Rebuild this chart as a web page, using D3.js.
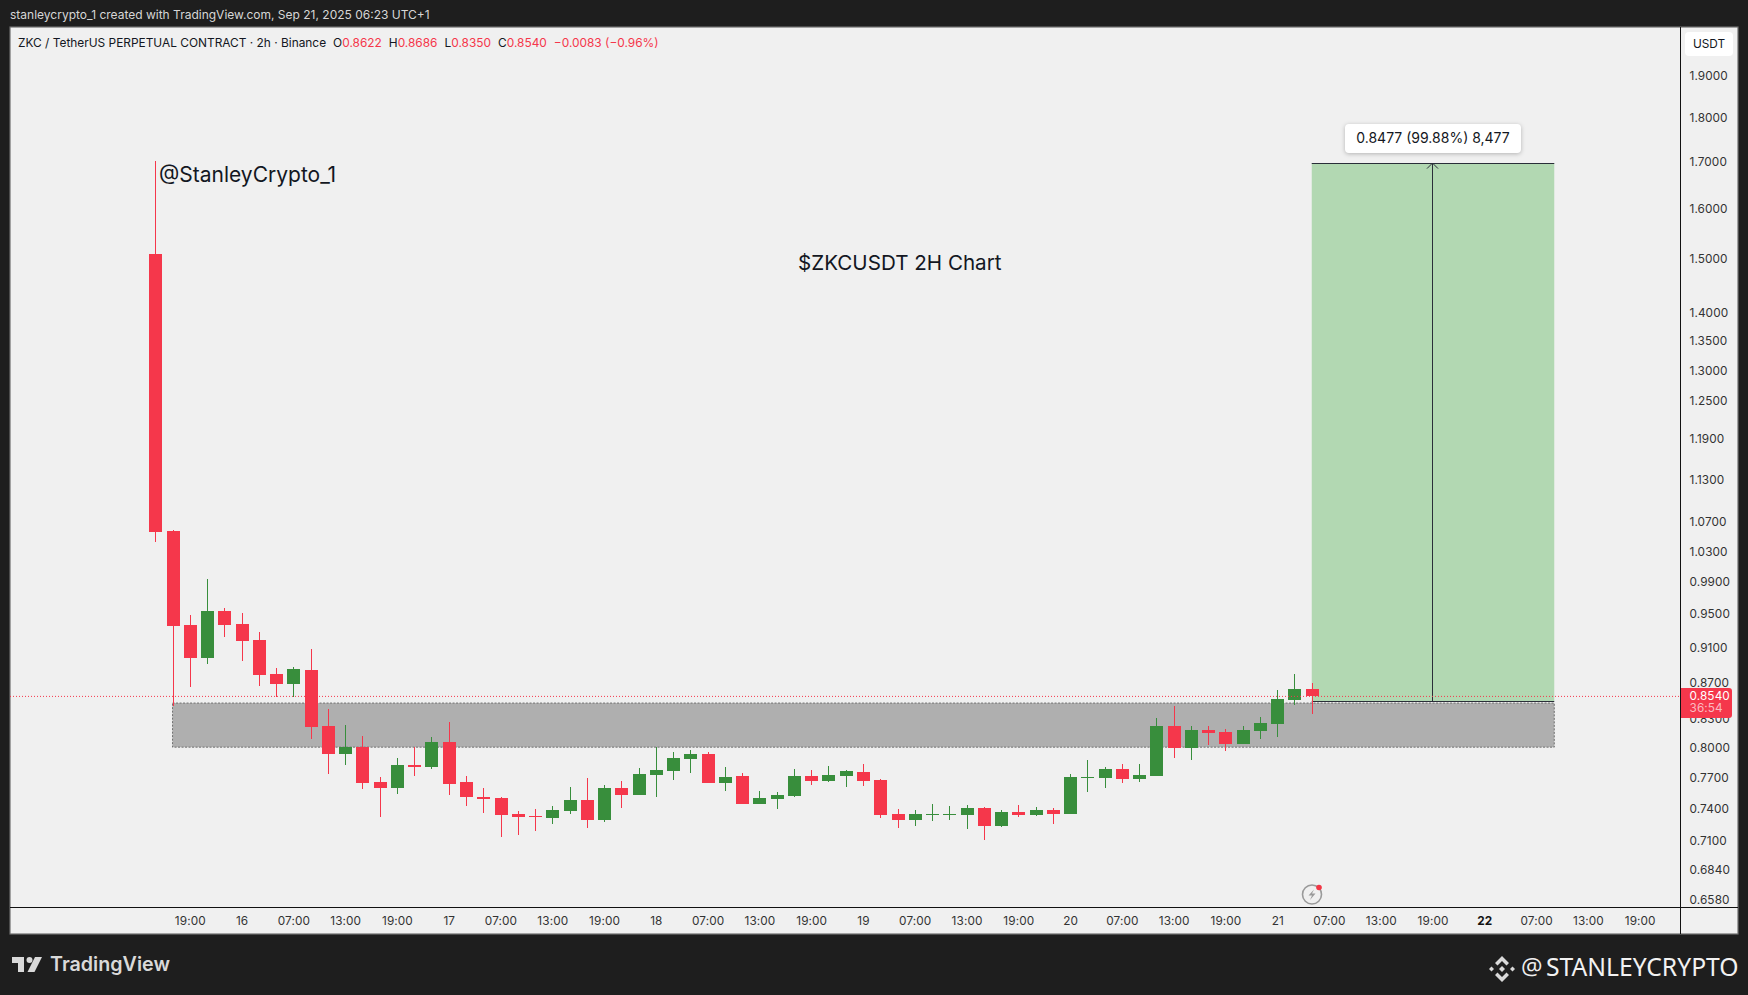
<!DOCTYPE html>
<html>
<head>
<meta charset="utf-8">
<title>ZKCUSDT 2H</title>
<script src="https://cdn.jsdelivr.net/npm/d3@7"></script>
<style>
  html, body { margin: 0; padding: 0; background: #1e1e1e; }
  svg { display: block; }
  text { font-family: Inter, "Noto Sans", sans-serif; }
  .axis text { font-size: 11.8px; fill: #333; letter-spacing: 0.1px; }
  .axis path, .axis line { display: none; }
</style>
</head>
<body>
<div id="content"></div>
<script>
// Données, 2h bars from Sep 15 15:00 to Sep 21 05:00 (UTC+1)

var opens = [1.5092,1.0566,0.9362,0.8973,0.9532,0.9374,0.9183,0.8790,0.8677,0.8835,0.8221,0.7930,0.8002,0.7650,0.7591,0.7819,0.7799,0.8053,0.7650,0.7503,0.7493,0.7341,0.7322,0.7303,0.7369,0.7474,0.7284,0.7591,0.7522,0.7719,0.7759,0.7879,0.7930,0.7640,0.7709,0.7436,0.7484,0.7512,0.7709,0.7659,0.7709,0.7749,0.7669,0.7341,0.7284,0.7331,0.7331,0.7331,0.7398,0.7228,0.7360,0.7331,0.7379,0.7341,0.7689,0.7689,0.7779,0.7679,0.7709,0.8221,0.7991,0.8179,0.8158,0.8032,0.8168,0.8243,0.8501,0.8622];
var highs = [1.7011,1.0579,0.9483,0.9933,0.9570,0.9508,0.9278,0.8858,0.8869,0.9078,0.8403,0.8232,0.8116,0.7699,0.7889,0.8002,0.8105,0.8264,0.7709,0.7591,0.7503,0.7369,0.7388,0.7417,0.7600,0.7689,0.7620,0.7659,0.7789,0.8002,0.7951,0.7971,0.7951,0.7799,0.7739,0.7561,0.7551,0.7779,0.7768,0.7809,0.7768,0.7829,0.7679,0.7388,0.7379,0.7436,0.7417,0.7426,0.7407,0.7379,0.7426,0.7407,0.7398,0.7729,0.7869,0.7799,0.7829,0.7829,0.8306,0.8435,0.8221,0.8221,0.8190,0.8221,0.8317,0.8611,0.8790,0.8686];
var lows = [1.0417,0.8440,0.8644,0.8904,0.9218,0.8938,0.8655,0.8534,0.8534,0.8084,0.7729,0.7819,0.7581,0.7312,0.7532,0.7709,0.7779,0.7522,0.7417,0.7350,0.7127,0.7145,0.7182,0.7246,0.7341,0.7209,0.7265,0.7398,0.7522,0.7503,0.7669,0.7739,0.7640,0.7561,0.7436,0.7436,0.7388,0.7503,0.7620,0.7650,0.7600,0.7610,0.7303,0.7209,0.7228,0.7274,0.7284,0.7200,0.7099,0.7218,0.7312,0.7322,0.7246,0.7341,0.7551,0.7591,0.7640,0.7650,0.7709,0.7889,0.7869,0.8022,0.7961,0.8032,0.8084,0.8105,0.8446,0.8350];
var closes = [1.0552,0.9350,0.8973,0.9532,0.9362,0.9171,0.8779,0.8677,0.8846,0.8211,0.7930,0.8002,0.7640,0.7591,0.7819,0.7799,0.8053,0.7630,0.7503,0.7484,0.7331,0.7312,0.7312,0.7379,0.7474,0.7284,0.7591,0.7522,0.7729,0.7768,0.7889,0.7930,0.7640,0.7699,0.7436,0.7493,0.7522,0.7709,0.7659,0.7719,0.7759,0.7659,0.7331,0.7284,0.7341,0.7341,0.7341,0.7398,0.7228,0.7360,0.7331,0.7379,0.7341,0.7699,0.7699,0.7779,0.7679,0.7719,0.8221,0.7991,0.8179,0.8147,0.8032,0.8179,0.8253,0.8512,0.8622,0.8540];

var priceTicks = [1.9,1.8,1.7,1.6,1.5,1.4,1.35,1.3,1.25,1.19,1.13,1.07,1.03,0.99,0.95,0.91,0.87,0.83,0.8,0.77,0.74,0.71,0.684,0.658];
var timeLabels = ["19:00","16","07:00","13:00","19:00","17","07:00","13:00","19:00","18","07:00","13:00","19:00","19","07:00","13:00","19:00","20","07:00","13:00","19:00","21","07:00","13:00","19:00","22","07:00","13:00","19:00"];
var timeBars = [2,5,8,11,14,17,20,23,26,29,32,35,38,41,44,47,50,53,56,59,62,65,68,71,74,77,80,83,86];

var lastPrice = 0.8540;
var zonePrices = [0.8467, 0.8000];
var zoneBars = [1, 81.05];
var targetPrices = [0.8487, 1.6964];
var targetBars = [67, 81.05];

var headerValues = [["O","0.8622"],["H","0.8686"],["L","0.8350"],["C","0.8540"]];

// Paramètres graphiques

let width = 1748, height = 995,
    panel = {left: 10, top: 27, right: 1738, bottom: 934},
    axisX = 1680, axisY = 907,
    upColor = "#388e3c", downColor = "#f5374b";

let svg = d3.select("#content").append("svg")
    .attr("width", width)
    .attr("height", height);

// Échelles

var x = d3.scaleLinear().domain([0, 81]).range([155.3, 1553.4]),
    y = d3.scaleLog().domain([0.658, 1.9]).range([899, 75]);

// Cadre

svg.append("rect")
    .attr("x", panel.left)
    .attr("y", panel.top)
    .attr("width", panel.right - panel.left)
    .attr("height", panel.bottom - panel.top)
    .attr("fill", "#f0f0f0")
    .attr("stroke", "#6e6e6e")
    .attr("stroke-width", 1.2);

// Target box and arrow

svg.append("rect")
    .attr("x", x(targetBars[0]))
    .attr("y", y(targetPrices[1]))
    .attr("width", x(targetBars[1]) - x(targetBars[0]))
    .attr("height", y(targetPrices[0]) - y(targetPrices[1]))
    .attr("fill", "#b2d8b2");

targetPrices.forEach(p => {
  svg.append("line")
      .attr("x1", x(targetBars[0]))
      .attr("x2", x(targetBars[1]))
      .attr("y1", Math.round(y(p)) + 0.5)
      .attr("y2", Math.round(y(p)) + 0.5)
      .attr("stroke", "#2a2e39")
      .attr("stroke-width", 1);
});

let arrowX = Math.round((x(targetBars[0]) + x(targetBars[1])) / 2) - 0.5;

svg.append("line")
    .attr("x1", arrowX).attr("x2", arrowX)
    .attr("y1", y(targetPrices[0]))
    .attr("y2", y(targetPrices[1]))
    .attr("stroke", "#2a2e39");

svg.append("path")
    .attr("d", "M" + (arrowX - 5.5) + "," + (y(targetPrices[1]) + 5.5) + "L" + arrowX + "," + y(targetPrices[1]) + "L" + (arrowX + 5.5) + "," + (y(targetPrices[1]) + 5.5))
    .attr("fill", "none")
    .attr("stroke", "#2a2e39");

// Zone grise

svg.append("rect")
    .attr("x", x(zoneBars[0]))
    .attr("y", y(zonePrices[0]))
    .attr("width", x(zoneBars[1]) - x(zoneBars[0]))
    .attr("height", y(zonePrices[1]) - y(zonePrices[0]))
    .attr("fill", "#afafaf")
    .attr("stroke", "#6f6f6f")
    .attr("stroke-dasharray", "2 1.5");

// Bougies

let bars = d3.range(opens.length);

let candles = svg.append("g")
    .attr("shape-rendering", "crispEdges")
    .selectAll("g")
    .data(bars)
  .join("g")
    .attr("fill", i => closes[i] >= opens[i] ? upColor : downColor);

candles.append("rect")
    .attr("x", i => Math.round(x(i)) - 0.5)
    .attr("width", 1)
    .attr("y", i => y(highs[i]))
    .attr("height", i => y(lows[i]) - y(highs[i]));

candles.append("rect")
    .attr("x", i => Math.round(x(i)) - 6.5)
    .attr("width", 13)
    .attr("y", i => y(Math.max(opens[i], closes[i])))
    .attr("height", i => Math.max(1, y(Math.min(opens[i], closes[i])) - y(Math.max(opens[i], closes[i]))));

// Ligne de prix

svg.append("line")
    .attr("x1", panel.left)
    .attr("x2", axisX)
    .attr("y1", y(lastPrice))
    .attr("y2", y(lastPrice))
    .attr("stroke", downColor)
    .attr("stroke-width", 1)
    .attr("stroke-dasharray", "1 2");

// Axes

svg.append("line")
    .attr("x1", axisX + 0.5).attr("x2", axisX + 0.5)
    .attr("y1", panel.top).attr("y2", panel.bottom)
    .attr("stroke", "#111");

svg.append("line")
    .attr("x1", panel.left).attr("x2", panel.right)
    .attr("y1", axisY + 0.5).attr("y2", axisY + 0.5)
    .attr("stroke", "#111");

let yAxis = svg.append("g")
    .attr("class", "axis")
    .attr("transform", "translate(" + axisX + ",0.5)")
    .call(d3.axisRight(y)
      .tickValues(priceTicks)
      .tickFormat(d3.format(".4f"))
      .tickSize(0)
      .tickPadding(9.5));

let xAxis = svg.append("g")
    .attr("class", "axis")
    .attr("transform", "translate(0," + axisY + ")")
    .call(d3.axisBottom(x)
      .tickValues(timeBars)
      .tickFormat((d, i) => timeLabels[i])
      .tickSize(0)
      .tickPadding(9.5));

xAxis.selectAll("text")
    .filter(d => d == 77)
    .attr("font-weight", 700)
    .style("fill", "#111");

// Étiquette de prix

svg.append("path")
    .attr("d", "M" + (axisX + 1) + ",688H1729a3,3 0 0 1 3,3V715a3,3 0 0 1 -3,3H" + (axisX + 1) + "Z")
    .attr("fill", downColor);

svg.append("text")
    .attr("x", 1689.5)
    .attr("y", y(lastPrice) + 0.5)
    .attr("dominant-baseline", "middle")
    .attr("font-size", 11.8)
    .attr("letter-spacing", 0.1)
    .attr("fill", "#fff")
    .text(lastPrice.toFixed(4));

svg.append("text")
    .attr("x", 1689.5)
    .attr("y", 709)
    .attr("dominant-baseline", "middle")
    .attr("font-size", 11.8)
    .attr("letter-spacing", 0.1)
    .attr("fill", "#fbb9c0")
    .text("36:54");

// Bouton USDT

svg.append("rect")
    .attr("x", 1685).attr("y", 32)
    .attr("width", 48).attr("height", 24)
    .attr("rx", 4)
    .attr("fill", "#fff");

svg.append("text")
    .attr("x", 1709).attr("y", 44.5)
    .attr("text-anchor", "middle")
    .attr("dominant-baseline", "middle")
    .attr("font-size", 11.8)
    .attr("fill", "#131722")
    .text("USDT");

// Textes

svg.append("text")
    .attr("x", 10).attr("y", 16)
    .attr("dominant-baseline", "middle")
    .attr("font-size", 12)
    .attr("fill", "#d6d6d6")
    .text("stanleycrypto_1 created with TradingView.com, Sep 21, 2025 06:23 UTC+1");

let header = svg.append("text")
    .attr("x", 18).attr("y", 43.5)
    .attr("dominant-baseline", "middle")
    .attr("font-size", 11.9)
    .attr("fill", "#131722");

header.append("tspan").text("ZKC / TetherUS PERPETUAL CONTRACT · 2h · Binance");

headerValues.forEach(d => {
  header.append("tspan").attr("dx", 7).text(d[0]);
  header.append("tspan").attr("fill", downColor).text(d[1]);
});

header.append("tspan").attr("dx", 7).attr("fill", downColor).text("−0.0083 (−0.96%)");

svg.append("text")
    .attr("x", 159).attr("y", 176)
    .attr("dominant-baseline", "middle")
    .attr("font-size", 21)
    .attr("fill", "#131722")
    .text("@StanleyCrypto_1");

svg.append("text")
    .attr("x", 798).attr("y", 264)
    .attr("dominant-baseline", "middle")
    .attr("font-size", 20.6)
    .attr("fill", "#131722")
    .text("$ZKCUSDT 2H Chart");

// Measure label

svg.append("rect")
    .attr("x", 1345).attr("y", 124)
    .attr("width", 176).attr("height", 29)
    .attr("rx", 4)
    .attr("fill", "#fff")
    .style("filter", "drop-shadow(0 1px 2px rgba(0,0,0,0.25))");

svg.append("text")
    .attr("x", 1433).attr("y", 139.5)
    .attr("text-anchor", "middle")
    .attr("dominant-baseline", "middle")
    .attr("font-size", 14)
    .attr("fill", "#131722")
    .text("0.8477 (99.88%) 8,477");

// Icône éclair

let bolt = svg.append("g").attr("transform", "translate(1312,894.5)");

bolt.append("circle")
    .attr("r", 9.5)
    .attr("fill", "none")
    .attr("stroke", "#9a9a9a")
    .attr("stroke-width", 1.6);

bolt.append("path")
    .attr("d", "M2,-5L-3.5,1H0L-2,5.5L3.5,-1H0Z")
    .attr("fill", "#9a9a9a");

bolt.append("circle")
    .attr("cx", 7).attr("cy", -7).attr("r", 2.8)
    .attr("fill", "#f23645");

// Logo TradingView

let tv = svg.append("g").attr("fill", "#d9d9d9");

tv.append("path").attr("d", "M12,957H24V972H18V963H12Z");
tv.append("circle").attr("cx", 29.5).attr("cy", 960).attr("r", 3);
tv.append("path").attr("d", "M35,957H42L34.5,972H27.5Z");

tv.append("text")
    .attr("x", 50).attr("y", 966)
    .attr("dominant-baseline", "middle")
    .attr("font-size", 19.7)
    .attr("font-weight", 600)
    .text("TradingView");

// Filigrane Binance

let mark = svg.append("g")
    .attr("transform", "translate(1502,969)")
    .attr("fill", "#d9d9d9");

mark.append("path").attr("d", "M0,-13L7,-6L4.5,-3.5L0,-8L-4.5,-3.5L-7,-6Z");
mark.append("path").attr("d", "M0,13L7,6L4.5,3.5L0,8L-4.5,3.5L-7,6Z");
mark.append("path").attr("d", "M0,-3L3,0L0,3L-3,0Z");
mark.append("path").attr("d", "M-10.5,-2.5L-8,0L-10.5,2.5L-13,0Z");
mark.append("path").attr("d", "M10.5,-2.5L13,0L10.5,2.5L8,0Z");

svg.append("text")
    .attr("x", 1521).attr("y", 969)
    .attr("dominant-baseline", "middle")
    .style("font-family", "'Open Sans', sans-serif")
    .attr("font-size", 24)
    .attr("fill", "#eeeeee")
    .text("@");

svg.append("text")
    .attr("x", 1546).attr("y", 969)
    .attr("dominant-baseline", "middle")
    .style("font-family", "'Noto Sans', sans-serif")
    .attr("font-size", 24.7)
    .attr("fill", "#f2f2f2")
    .text("STANLEYCRYPTO");
</script>
</body>
</html>
